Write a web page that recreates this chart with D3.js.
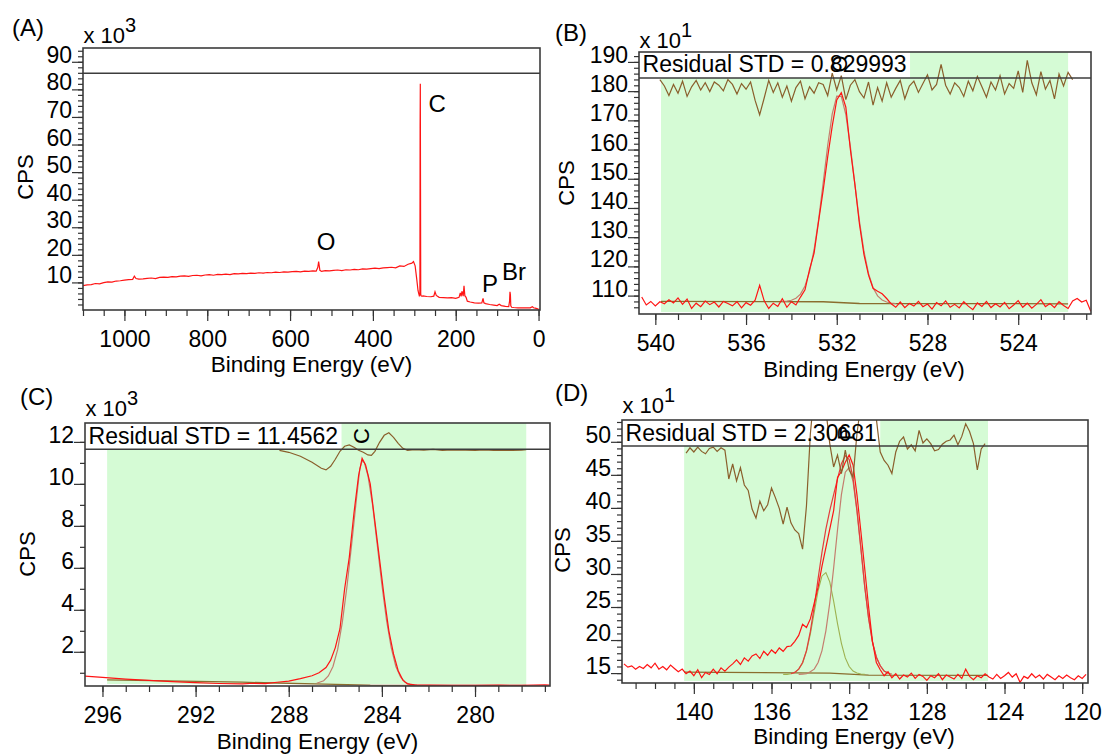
<!DOCTYPE html>
<html>
<head>
<meta charset="utf-8">
<title>XPS spectra</title>
<style>
  body { margin: 0; background: #fff; }
  svg text { font-family: "Liberation Sans", Arial, sans-serif; fill: #000; }
  .frame { fill: none; stroke: #3c3c3c; stroke-width: 1.6px; }
  .sep { stroke: #3c3c3c; stroke-width: 1.5px; }
  .axis line { stroke: #333; stroke-width: 1.2px; }
  .axis path { display: none; }
  .raw { fill: none; stroke: #ff1414; stroke-width: 1.2px; }
  .env { fill: none; stroke: #e43c3c; stroke-width: 1.2px; }
  .comp1 { fill: none; stroke: #c47e6e; stroke-width: 1.2px; }
  .comp2 { fill: none; stroke: #9db14f; stroke-width: 1.1px; }
  .bg { fill: none; stroke: #8a6d2e; stroke-width: 1.3px; }
  .resid { fill: none; stroke: #8a5f2c; stroke-width: 1.2px; }
</style>
</head>
<body>
<script src="https://cdn.jsdelivr.net/npm/d3@7"></script>
<script>

// ---------- (A) survey, CPS x 10^3 ----------
var surveyBE = [1100,1090,1080,1070,1060,1050,1040,1030,1020,1010,1000,990,980,976,972,965,955,945,935,925,
  915,905,895,885,875,865,855,845,835,825,815,805,795,785,775,765,755,745,735,725,
  715,705,695,685,675,665,655,645,635,625,615,605,595,585,575,565,555,545,537,533,
  531,528,524,515,505,495,485,475,465,455,445,435,425,415,405,395,385,375,365,355,
  345,335,325,315,306,302,298,294,291,288,286.5,286,285.5,285,284.5,284,282,279,270,260,
  253,250,247,240,230,220,210,200,192,189,187,185,182,180,178,175,172,165,155,145,
  137,134,132,128,118,108,100,95,90,80,72,70,69,68,67,65,60,50,40,30,
  20,15,12,8,4,1,-3];
var surveyCPS = [8.8,9.1,9.2,9.6,9.5,9.9,10.2,10.1,10.5,10.6,10.8,11.0,11.1,12.3,11.4,11.2,11.3,11.5,11.6,11.4,
  11.8,11.9,11.8,12.1,12.0,12.3,12.4,12.2,12.5,12.6,12.4,12.7,12.8,12.6,12.9,12.8,13.0,12.8,13.2,13.1,
  13.3,13.2,13.4,13.3,13.5,13.4,13.6,13.5,13.7,13.6,13.8,13.7,13.9,14.0,13.8,14.1,14.0,14.2,14.1,15.5,
  17.6,14.4,14.0,14.3,14.2,14.4,14.5,14.3,14.6,14.5,14.7,14.6,14.9,14.8,15.0,15.2,15.0,15.3,15.4,15.5,
  15.3,16.0,15.8,16.6,17.0,17.6,16.0,11.0,7.0,5.2,5.6,66,82,44,6.0,5.2,5.0,5.1,4.9,4.8,
  5.0,6.6,5.3,4.6,4.5,4.4,4.5,4.2,4.6,6.2,4.9,6.8,5.0,8.8,5.2,4.6,3.2,2.9,2.6,2.5,
  2.6,4.2,2.6,2.3,2.0,1.8,1.6,2.1,1.6,1.3,1.2,3.2,6.6,5.6,1.5,1.0,0.9,0.8,0.8,0.8,
  0.8,1.2,0.8,0.7,0.5,0.3,0.2];
var surveyPeaks = ["C", "O", "P", "Br"];
var surveyPeakBE = [245, 513, 117, 88];      // where each element label sits
var surveyPeakCPS = [71.8, 21.8, 6.5, 10.9];

// ---------- (B) O 1s, CPS x 10^1, channels every 0.2 eV from 540.6 ----------
var o1sRaw = [109.5,106.8,108.0,106.5,107.9,107.2,108.6,107.5,109.2,107.0,
  108.8,105.6,107.4,106.2,108.1,106.9,107.8,106.1,108.0,107.3,
  106.5,107.9,105.8,107.6,106.7,108.4,113.5,108.2,105.6,107.4,
  106.3,108.9,106.0,107.9,106.8,109.5,112.0,119.0,124.5,135.5,
  146.0,157.5,168.0,177.0,179.5,174.5,160.0,148.0,134.5,124.0,
  117.0,112.5,111.5,110.6,109.0,107.2,106.0,107.8,105.9,107.3,
  106.4,108.0,106.2,107.1,105.4,107.6,106.5,108.2,106.0,107.0,
  105.8,107.9,106.4,105.2,107.5,106.3,108.0,105.9,107.2,106.1,
  107.7,105.5,106.8,108.3,106.0,107.4,105.7,107.0,108.6,106.2,
  107.3,105.9,107.9,106.6,105.6,108.2,109.0,107.8,108.4,104.6];
// fitted O component, channels from 534.4
var o1sFit = [108.0,108.1,108.4,109.1,110.5,113.3,118.2,125.7,136.0,148.5,
  161.4,172.2,178.3,178.2,172.0,161.0,148.1,135.5,125.1,117.6,
  112.7,109.9,108.5,107.8,107.4,107.3];
var o1sBgBE = [539.75, 532.6, 531.0, 521.8];
var o1sBg = [108.0, 107.9, 107.3, 107.2];
// residual, channels from 539.8
var o1sResid = [-0.2,-1.0,-2.2,-0.8,-1.9,-0.4,-2.3,-1.1,-0.3,-1.5,
  -0.6,-1.7,-0.5,-0.9,-1.6,-0.2,-0.8,-2.0,-0.7,-1.4,
  -0.5,-2.8,-4.6,-2.5,-0.3,-1.8,-0.6,-2.4,-1.0,-2.9,
  -1.2,-0.4,-2.6,-1.1,-1.9,-0.6,-0.8,-2.2,0.6,-1.5,
  0.3,-2.7,-0.9,-0.2,-1.7,-2.5,-0.5,-3.4,-1.2,-2.9,
  -0.6,-2.4,-1.3,-0.3,-2.6,-1.0,-0.4,-1.8,-0.7,0.4,
  -1.5,-0.8,1.7,-0.9,-2.0,-0.6,-1.2,-2.3,-0.4,-1.6,
  0.2,-1.1,-2.4,-0.5,-1.5,0.3,-2.0,-0.7,-1.3,0.9,
  -1.8,2.2,-0.6,-2.1,0.8,-1.4,-0.3,-2.6,0.5,-1.0,
  0.7,-0.2];

// ---------- (C) C 1s, CPS x 10^3 ----------
var c1sRawBE = [296.75,296,295,294,293,292,291,290,289.5,289,288.5,288,287.5,287,286.7,286.4,286.2,286,285.8,285.6,
  285.4,285.2,285,284.85,284.7,284.5,284.3,284.1,283.9,283.7,283.5,283.3,283.1,282.9,282.6,282,281,280,279,278,277,276.8];
var c1sRaw = [0.84,0.78,0.70,0.64,0.58,0.53,0.49,0.47,0.50,0.48,0.55,0.60,0.72,0.86,1.00,1.25,1.60,2.20,3.10,5.00,
  6.50,8.60,10.40,11.22,10.90,10.00,8.20,6.40,4.60,3.00,1.90,1.10,0.65,0.47,0.42,0.41,0.40,0.40,0.41,0.40,0.42,0.41];
var c1sFitBE = [286.8,286.5,286.3,286.1,285.9,285.7,285.5,285.3,285.1,284.95,284.85,284.75,284.6,284.4,284.2,284,283.8,283.6,283.4,283.2,283,282.8,282.5];
var c1sFit = [0.50,0.62,0.85,1.30,2.10,3.40,5.10,7.10,9.20,10.70,11.10,11.00,10.40,9.00,7.10,5.20,3.50,2.20,1.30,0.80,0.55,0.45,0.41];
var c1sBgBE = [295.8, 290, 286, 284.5, 277.8];
var c1sBg = [0.66, 0.55, 0.45, 0.41, 0.40];
var c1sResidBE = [288.4,288,287.5,287,286.6,286.4,286.2,286,285.8,285.6,285.4,285.2,285,284.8,284.6,284.45,284.3,284.1,283.9,
  283.7,283.5,283.3,283.1,282.9,282.6,282.2,281.8,281.4,281,280.4,280,279.6,279.2,278.8,278.4,278,277.8];
var c1sResid = [-0.05,-0.15,-0.35,-0.65,-0.95,-1.03,-0.85,-0.5,-0.1,0.15,0.22,0.1,-0.05,-0.15,-0.28,-0.3,-0.1,0.35,0.7,
  0.83,0.6,0.3,0.05,-0.05,-0.02,-0.04,0.0,-0.05,-0.03,-0.04,-0.05,-0.03,-0.05,-0.04,-0.06,-0.04,-0.02];

// ---------- (D) P 2p, CPS x 10^1, channels every 0.2 eV from 143.6 ----------
var p2pRaw = [16.4,15.9,16.1,15.6,16.0,15.7,16.3,15.8,16.5,15.6,
  16.0,15.5,16.2,15.7,15.2,15.6,14.9,15.3,14.6,15.5,
  14.3,15.1,14.8,15.6,14.9,15.8,15.3,15.9,16.4,17.0,
  16.3,17.3,16.8,17.6,17.9,17.2,18.3,17.7,18.5,18.0,
  18.8,18.3,19.0,19.1,19.8,20.7,22.4,21.9,23.2,25.6,
  28.0,31.2,34.0,36.8,39.6,44.6,45.5,46.9,48.0,46.5,
  42.0,36.5,30.8,25.0,19.8,16.6,15.5,14.6,15.2,14.3,
  14.9,14.1,14.7,14.4,15.0,14.2,14.8,14.5,13.9,14.6,
  14.3,14.9,14.0,14.7,14.4,14.1,14.8,14.2,15.6,14.5,
  14.0,14.6,14.3,14.9,14.4,14.1,14.8,14.2,14.6,15.1,
  14.4,14.9,13.6,14.5,14.2,14.9,14.3,14.7,14.1,14.8,
  14.4,14.0,14.6,14.2,14.7,14.3,14.0,14.6,14.2,14.8];
var p2pCompA = [14.8,14.8,14.9,15.1,15.6,16.5,18.3,20.9,24.2,27.5,29.7,30.2,28.8,25.9,22.5,19.5,17.3,16.0,15.3,15.0,14.85,14.8]; // from 135.4
var p2pCompB = [14.8,14.85,14.9,15.2,15.6,16.6,18.4,21.4,25.6,30.9,36.7,42.0,45.4,46.1,44.0,39.5,33.9,28.1,23.3,19.7,17.4,16.1,15.3,15.0,14.85]; // from 134.6
var p2pEnv = [14.9,15.1,15.6,16.6,18.4,21.3,25.0,29.3,33.3,36.8,39.6,42.0,44.4,46.7,47.9,47.3,44.5,39.7,34.0,28.1,23.3,19.7,17.4,16.1,15.3,15.0]; // from 135.0
var p2pBgBE = [140.5, 133, 131, 124.85];
var p2pBg = [15.15, 15.0, 14.7, 14.65];
var p2pResid = [-1.2,-0.3,-1.0,-0.2,-0.9,-1.3,-0.4,-0.2,-0.9,-0.3,
  -0.7,-5.5,-3.0,-5.8,-3.6,-6.5,-7.4,-10.5,-12.0,-9.2,
  -10.8,-9.8,-7.0,-8.6,-10.4,-13.0,-10.2,-12.8,-14.0,-14.6,
  -17.2,-10.0,2.0,9.0,8.0,9.0,6.0,0.4,-3.5,-1.5,
  -4.6,-0.7,-4.0,-5.2,2.0,7.0,8.0,7.5,6.0,4.5,
  -1.0,-2.4,-3.2,-4.6,-1.0,0.8,1.5,-0.5,0.2,-0.8,
  2.6,0.5,1.2,0.4,-0.8,-0.6,0.3,0.8,1.0,1.8,
  0.2,1.6,3.7,2.4,0.4,-4.0,-0.5,0.4]; // from 140.4

// tick labels
var ticksA = [1000, 800, 600, 400, 200, 0], ticksAy = [10, 20, 30, 40, 50, 60, 70, 80, 90];
var ticksB = [540, 536, 532, 528, 524], ticksBy = [110, 120, 130, 140, 150, 160, 170, 180, 190];
var ticksC = [296, 292, 288, 284, 280], ticksCy = [2, 4, 6, 8, 10, 12];
var ticksD = [140, 136, 132, 128, 124, 120], ticksDy = [15, 20, 25, 30, 35, 40, 45, 50];

// ---------- helpers ----------
function channels(start, vals) {
  return vals.map(function (v, i) { return [start - 0.2 * i, v]; });
}
function pairs(be, vals) {
  return be.map(function (b, i) { return [b, vals[i]]; });
}

var svg = d3.select("body").append("svg").attr("width", 1104).attr("height", 755);
var FONT = 23;

function panel(p) {
  var b = p.box;
  var x = d3.scaleLinear().domain(p.xDomain).range([b.left, b.right]);
  var y = d3.scaleLinear().domain(p.yDomain).range([b.bottom, b.top]);
  var g = svg.append("g");

  svg.append("clipPath").attr("id", "clip" + p.id).append("rect")
    .attr("x", b.left).attr("y", b.top).attr("width", b.right - b.left).attr("height", b.bottom - b.top);

  var back = g.append("g"), data = g.append("g").attr("clip-path", "url(#clip" + p.id + ")"), front = g.append("g");

  if (p.region) {
    back.append("rect")
      .attr("x", x(p.region[0])).attr("width", x(p.region[1]) - x(p.region[0]))
      .attr("y", b.top).attr("height", b.bottom - b.top - 2)
      .attr("fill", "#d5fbd5");
  }

  var line = d3.line().x(function (d) { return x(d[0]); }).y(function (d) { return y(d[1]); });
  var rline = d3.line().x(function (d) { return x(d[0]); })
    .y(function (d) { return b.line - d[1] * p.residScale; });

  (p.series || []).forEach(function (s) {
    data.append("path").datum(s.pts).attr("class", s.cls).attr("d", line);
  });
  if (p.resid) data.append("path").datum(p.resid).attr("class", "resid").attr("d", rline);

  front.append("line").attr("class", "sep")
    .attr("x1", b.left).attr("x2", b.right).attr("y1", b.line).attr("y2", b.line);

  if (p.std) {
    var t = front.append("text").attr("x", b.left + 3.6).attr("y", b.stdY)
      .attr("font-size", 23).text(p.std);
    var w = t.node().getComputedTextLength();
    back.append("rect").attr("x", b.left).attr("y", b.top)
      .attr("width", w + 7).attr("height", b.line - b.top).attr("fill", "#fff");
  }
  if (p.tag) {
    front.append("text")
      .attr("transform", "translate(" + x(p.tag.be) + "," + p.tag.y + ") rotate(-90)")
      .attr("text-anchor", "middle").attr("dominant-baseline", "central")
      .attr("font-size", 22).text(p.tag.name);
  }

  front.append("rect").attr("class", "frame")
    .attr("x", b.left).attr("y", b.top).attr("width", b.right - b.left).attr("height", b.bottom - b.top);

  // axes: minor ticks first, then labelled majors
  var xa = front.append("g").attr("class", "axis").attr("transform", "translate(0," + b.bottom + ")");
  xa.call(d3.axisBottom(x).tickValues(p.xMinor).tickSize(6).tickFormat(""));
  var xm = front.append("g").attr("class", "axis").attr("transform", "translate(0," + b.bottom + ")");
  xm.call(d3.axisBottom(x).tickValues(p.xTicks).tickSize(11).tickFormat(d3.format("d")));
  xm.selectAll("text").attr("y", 37).attr("dy", 0)
    .attr("font-size", FONT).attr("font-family", "Liberation Sans, Arial, sans-serif");

  var ya = front.append("g").attr("class", "axis").attr("transform", "translate(" + b.left + ",0)");
  ya.call(d3.axisLeft(y).tickValues(p.yMinor).tickSize(5).tickFormat(""));
  var ym = front.append("g").attr("class", "axis").attr("transform", "translate(" + b.left + ",0)");
  ym.call(d3.axisLeft(y).tickValues(p.yTicks).tickSize(11).tickPadding(0).tickFormat(d3.format("d")));
  ym.selectAll("text").attr("dy", 0).attr("y", 0.5)
    .attr("font-size", FONT).attr("font-family", "Liberation Sans, Arial, sans-serif");

  // labels
  svg.append("text").attr("x", p.lab.letterX).attr("y", p.lab.letterY)
    .attr("font-size", 24).text(p.letter);
  var ex = svg.append("text").attr("x", b.left + 0.5).attr("y", p.lab.expY).attr("font-size", 22).text("x 10");
  ex.append("tspan").attr("dy", -11).attr("font-size", 20).text(p.exponent);

  var title = svg.append("text").attr("x", (b.left + b.right) / 2 + p.lab.titleDx).attr("y", p.lab.titleY)
    .attr("text-anchor", "middle").attr("font-size", 22.5).text("Binding Energy (eV)");
  if (p.lab.titleClip) {
    svg.append("clipPath").attr("id", "tclip" + p.id).append("rect")
      .attr("x", 0).attr("y", 0).attr("width", 1104).attr("height", p.lab.titleClip);
    title.attr("clip-path", "url(#tclip" + p.id + ")");
  }
  svg.append("text")
    .attr("transform", "translate(" + p.lab.cpsX + "," + p.lab.cpsY + ") rotate(-90)")
    .attr("text-anchor", "middle").attr("dominant-baseline", "central")
    .attr("font-size", 22).text("CPS");

  return { x: x, y: y, g: front };
}

// (A)
var pa = panel({
  id: "A", letter: "(A)", exponent: "3",
  box: { left: 83, right: 540, top: 48, bottom: 310, line: 73.3 },
  xDomain: [1100, -3.5], yDomain: [0, 95],
  xTicks: ticksA, xMinor: d3.range(1100, -1, -50),
  yTicks: ticksAy, yMinor: d3.range(2, 95, 2),
  series: [{ pts: pairs(surveyBE, surveyCPS), cls: "raw" }],
  lab: { letterX: 12, letterY: 36, expY: 43, titleDx: 0, titleY: 372, cpsX: 25, cpsY: 177 }
});
surveyPeaks.forEach(function (name, i) {
  pa.g.append("text")
    .attr("x", pa.x(surveyPeakBE[i])).attr("y", pa.y(surveyPeakCPS[i]))
    .attr("text-anchor", name === "Br" ? "start" : "middle")
    .attr("font-size", 24).text(name);
});

// (B)
panel({
  id: "B", letter: "(B)", exponent: "1",
  box: { left: 639, right: 1091, top: 52, bottom: 314, line: 78, stdY: 72 },
  xDomain: [540.72, 520.79], yDomain: [103.7, 193.4],
  xTicks: ticksB, xMinor: d3.range(540, 520.5, -1),
  yTicks: ticksBy, yMinor: d3.range(106, 193, 2),
  region: [539.75, 521.8],
  series: [
    { pts: pairs(o1sBgBE, o1sBg), cls: "bg" },
    { pts: channels(534.4, o1sFit), cls: "comp1" },
    { pts: channels(540.6, o1sRaw), cls: "raw" }
  ],
  resid: channels(539.8, o1sResid), residScale: 8,
  std: "Residual STD = 0.829993",
  tag: { name: "O", be: 531.9, y: 64 },
  lab: { letterX: 555, letterY: 41, expY: 48, titleDx: -1, titleY: 377, titleClip: 381, cpsX: 566, cpsY: 183 }
});

// (C)
panel({
  id: "C", letter: "(C)", exponent: "3",
  box: { left: 85, right: 550, top: 423, bottom: 686, line: 449.3, stdY: 444 },
  xDomain: [296.75, 276.78], yDomain: [0.37, 12.9],
  xTicks: ticksC, xMinor: d3.range(296, 276.5, -1),
  yTicks: ticksCy, yMinor: d3.range(1, 13, 1),
  region: [295.8, 277.8],
  series: [
    { pts: pairs(c1sBgBE, c1sBg), cls: "bg" },
    { pts: pairs(c1sFitBE, c1sFit), cls: "comp1" },
    { pts: pairs(c1sRawBE, c1sRaw), cls: "raw" }
  ],
  resid: pairs(c1sResidBE, c1sResid), residScale: 20,
  std: "Residual STD = 11.4562",
  tag: { name: "C", be: 284.87, y: 436 },
  lab: { letterX: 20, letterY: 405, expY: 416, titleDx: 0, titleY: 749, cpsX: 27, cpsY: 554 }
});

// (D)
panel({
  id: "D", letter: "(D)", exponent: "1",
  box: { left: 622, right: 1088, top: 420, bottom: 683, line: 446, stdY: 441 },
  xDomain: [143.7, 119.7], yDomain: [13.5, 53.3],
  xTicks: ticksD, xMinor: d3.range(143, 119.5, -1),
  yTicks: ticksDy, yMinor: d3.range(14, 53.5, 1),
  region: [140.5, 124.85],
  series: [
    { pts: pairs(p2pBgBE, p2pBg), cls: "bg" },
    { pts: channels(135.4, p2pCompA), cls: "comp2" },
    { pts: channels(134.6, p2pCompB), cls: "comp1" },
    { pts: channels(135.0, p2pEnv), cls: "env" },
    { pts: channels(143.6, p2pRaw), cls: "raw" }
  ],
  resid: channels(140.4, p2pResid), residScale: 6,
  std: "Residual STD = 2.30681",
  tag: { name: "P", be: 132.2, y: 433 },
  lab: { letterX: 555, letterY: 401, expY: 413, titleDx: -1, titleY: 744, cpsX: 562, cpsY: 550 }
});

</script>
</body>
</html>
